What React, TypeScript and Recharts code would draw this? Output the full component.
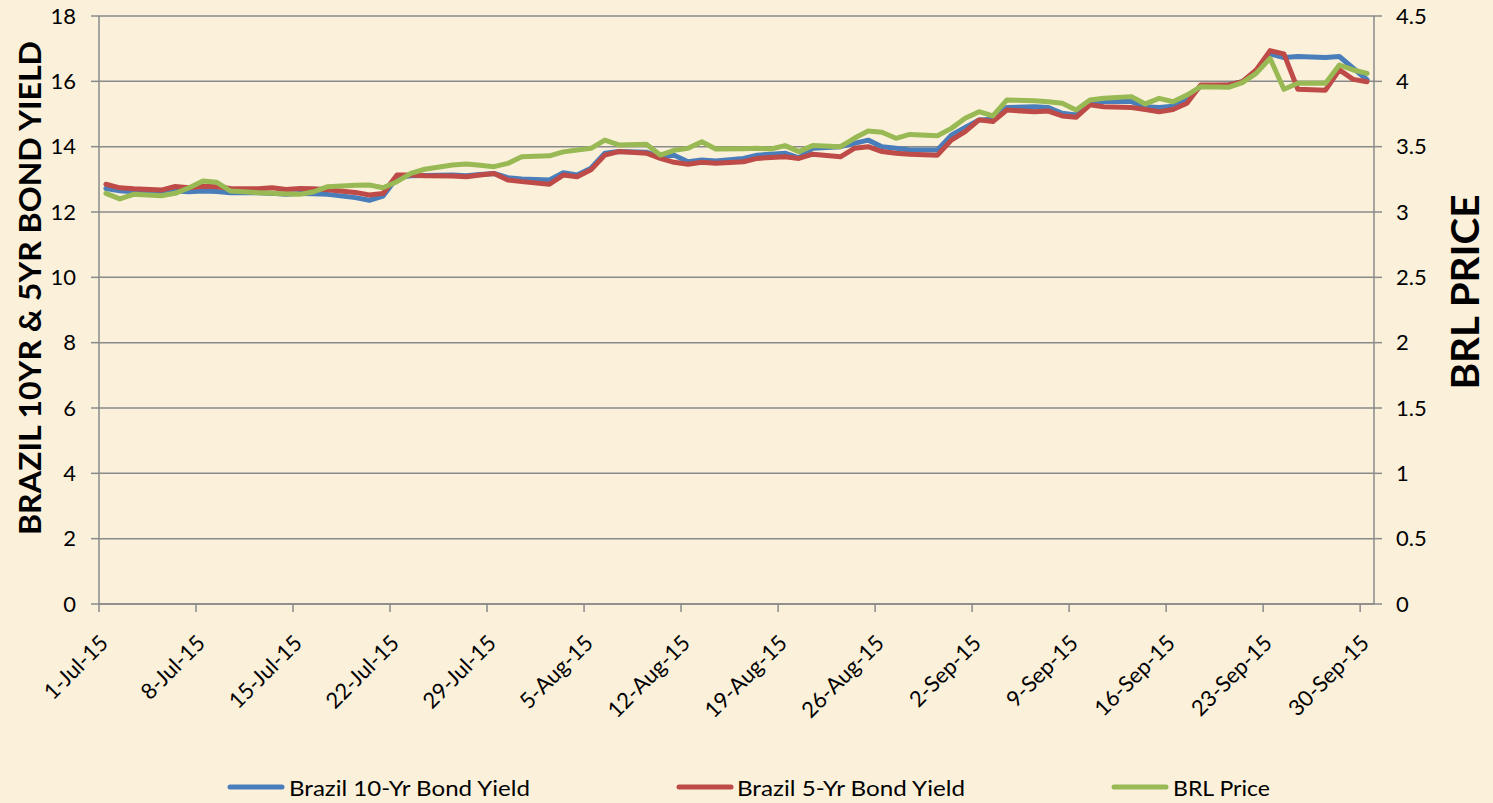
import React from 'react';
import { LineChart, Line, XAxis, YAxis, CartesianGrid, Legend } from 'recharts';

// ---------- DATA ----------
const dates = [
  '2015-07-01','2015-07-02','2015-07-03','2015-07-05','2015-07-06','2015-07-07','2015-07-08','2015-07-09','2015-07-10',
  '2015-07-12','2015-07-13','2015-07-14','2015-07-15','2015-07-16','2015-07-17',
  '2015-07-19','2015-07-20','2015-07-21','2015-07-22','2015-07-23','2015-07-24',
  '2015-07-26','2015-07-27','2015-07-28','2015-07-29','2015-07-30','2015-07-31',
  '2015-08-02','2015-08-03','2015-08-04','2015-08-05','2015-08-06','2015-08-07',
  '2015-08-09','2015-08-10','2015-08-11','2015-08-12','2015-08-13','2015-08-14',
  '2015-08-16','2015-08-17','2015-08-18','2015-08-19','2015-08-20','2015-08-21',
  '2015-08-23','2015-08-24','2015-08-25','2015-08-26','2015-08-27','2015-08-28',
  '2015-08-30','2015-08-31','2015-09-01','2015-09-02','2015-09-03','2015-09-04',
  '2015-09-06','2015-09-07','2015-09-08','2015-09-09','2015-09-10','2015-09-11',
  '2015-09-13','2015-09-14','2015-09-15','2015-09-16','2015-09-17','2015-09-18',
  '2015-09-20','2015-09-21','2015-09-22','2015-09-23','2015-09-24','2015-09-25',
  '2015-09-27','2015-09-28','2015-09-29','2015-09-30',
];

const yield10 = [
  12.72, 12.65, 12.62, 12.59, 12.64, 12.62, 12.64, 12.63, 12.59,
  12.59, 12.57, 12.54, 12.57, 12.56, 12.54,
  12.44, 12.36, 12.49, 13.05, 13.11, 13.12,
  13.13, 13.11, 13.15, 13.18, 13.05, 13.01,
  12.98, 13.2, 13.13, 13.34, 13.8, 13.85,
  13.83, 13.69, 13.74, 13.54, 13.59, 13.56,
  13.64, 13.74, 13.77, 13.8, 13.66, 13.95,
  14.0, 14.1, 14.2, 14.0, 13.95, 13.9,
  13.9, 14.35, 14.59, 14.82, 14.84, 15.2,
  15.22, 15.2, 15.02, 14.97, 15.33, 15.38,
  15.38, 15.22, 15.2, 15.24, 15.43, 15.86,
  15.89, 15.99, 16.3, 16.84, 16.73, 16.76,
  16.73, 16.76, 16.4, 16.05,
];

const yield5 = [
  12.85, 12.74, 12.71, 12.67, 12.78, 12.74, 12.79, 12.77, 12.72,
  12.71, 12.74, 12.69, 12.72, 12.71, 12.68,
  12.6, 12.52, 12.57, 13.13, 13.13, 13.11,
  13.1, 13.08, 13.13, 13.18, 12.98, 12.93,
  12.85, 13.13, 13.08, 13.29, 13.74, 13.85,
  13.8, 13.64, 13.52, 13.46, 13.52, 13.49,
  13.54, 13.64, 13.67, 13.69, 13.64, 13.77,
  13.69, 13.95, 14.0, 13.85, 13.8, 13.77,
  13.74, 14.2, 14.46, 14.82, 14.77, 15.12,
  15.07, 15.09, 14.94, 14.9, 15.28, 15.22,
  15.2, 15.14, 15.07, 15.14, 15.33, 15.89,
  15.89, 15.99, 16.35, 16.94, 16.84, 15.76,
  15.73, 16.35, 16.06, 15.99,
];

const brlPrice = [
  3.143, 3.1, 3.135, 3.125, 3.143, 3.186, 3.237, 3.227, 3.16,
  3.148, 3.143, 3.138, 3.135, 3.155, 3.194,
  3.204, 3.207, 3.186, 3.232, 3.296, 3.327,
  3.36, 3.367, 3.357, 3.347, 3.372, 3.423,
  3.43, 3.46, 3.474, 3.487, 3.55, 3.513,
  3.518, 3.436, 3.472, 3.487, 3.538, 3.482,
  3.485, 3.487, 3.482, 3.508, 3.462, 3.508,
  3.5, 3.564, 3.62, 3.61, 3.564, 3.594,
  3.584, 3.64, 3.717, 3.768, 3.735, 3.857,
  3.852, 3.844, 3.832, 3.781, 3.857, 3.87,
  3.883, 3.827, 3.87, 3.844, 3.895, 3.959,
  3.954, 3.99, 4.061, 4.176, 3.939, 3.985,
  3.985, 4.125, 4.087, 4.061,
];

const tickDates = [
  '2015-07-01','2015-07-08','2015-07-15','2015-07-22','2015-07-29',
  '2015-08-05','2015-08-12','2015-08-19','2015-08-26',
  '2015-09-02','2015-09-09','2015-09-16','2015-09-23','2015-09-30',
];
const axisEndDate = '2015-10-01';

const leftTicks = [0, 2, 4, 6, 8, 10, 12, 14, 16, 18];
const rightTicks = [0, 0.5, 1, 1.5, 2, 2.5, 3, 3.5, 4, 4.5];

const seriesNames = ['Brazil 10-Yr Bond Yield', 'Brazil 5-Yr Bond Yield', 'BRL Price'];
const leftTitle = 'BRAZIL 10YR & 5YR BOND YIELD';
const rightTitle = 'BRL PRICE';

// ---------- HELPERS ----------
const MONTHS = ['Jan','Feb','Mar','Apr','May','Jun','Jul','Aug','Sep','Oct','Nov','Dec'];
const START = Date.UTC(2015, 6, 1);
const parse = (iso: string) => iso.split('-').map(Number);
const dayIndex = (iso: string) => {
  const [y, m, d] = parse(iso);
  return (Date.UTC(y, m - 1, d) - START) / 86400000;
};
const fmtDate = (iso: string) => {
  const [y, m, d] = parse(iso);
  return `${d}-${MONTHS[m - 1]}-${String(y).slice(2)}`;
};

// each date occupies a one-day band; points sit in the middle of their band
const data = dates.map((iso, i) => ({
  x: dayIndex(iso) + 0.5,
  y10: yield10[i],
  y5: yield5[i],
  brl: brlPrice[i],
}));
const xTicks = tickDates.map(dayIndex);
const xLabels = new Map<number, string>(xTicks.map((t, i) => [t, fmtDate(tickDates[i])]));
const xMax = dayIndex(axisEndDate);

const COLORS = ['#4A7EBB', '#BE4B48', '#98B954'];
const FONT = 'Lato, "Open Sans", sans-serif';
const AXIS_GREY = '#8A8A8A';
const TICK_FONT_SIZE = 22;

const XTick = (props: any) => {
  const { x, y, payload } = props;
  const ax = x + 5;
  const ay = y + 25;
  return (
    <text
      x={ax}
      y={ay}
      dy="0.35em"
      textAnchor="end"
      transform={`rotate(-45 ${ax} ${ay})`}
      fontFamily={FONT}
      fontSize={TICK_FONT_SIZE}
      fill="#000"
    >
      {xLabels.get(payload.value) ?? ''}
    </text>
  );
};

const LeftTitle = (props: any) => {
  const vb = props.viewBox || { x: 0, y: 16, width: 99, height: 588 };
  const cx = 29;
  const cy = vb.y + vb.height / 2 - 22;
  return (
    <text
      x={cx}
      y={cy}
      transform={`rotate(-90 ${cx} ${cy})`}
      textAnchor="middle"
      dominantBaseline="central"
      fontFamily={FONT}
      fontWeight={700}
      fontSize={31}
      textLength={494}
      lengthAdjust="spacingAndGlyphs"
      fill="#000"
    >
      {leftTitle}
    </text>
  );
};

const RightTitle = (props: any) => {
  const vb = props.viewBox || { x: 1374, y: 16, width: 119, height: 588 };
  const cx = 1464;
  const cy = vb.y + vb.height / 2 - 18;
  return (
    <text
      x={cx}
      y={cy}
      transform={`rotate(-90 ${cx} ${cy})`}
      textAnchor="middle"
      dominantBaseline="central"
      fontFamily={FONT}
      fontWeight={700}
      fontSize={39}
      textLength={195}
      lengthAdjust="spacingAndGlyphs"
      fill="#000"
    >
      {rightTitle}
    </text>
  );
};

const legendPos = [
  { line: 228, text: 289, width: 241 },
  { line: 677, text: 737, width: 228 },
  { line: 1112, text: 1173, width: 97 },
];

const LegendContent = () => (
  <svg width={1493} height={34} style={{ display: 'block' }}>
    {seriesNames.map((name, i) => (
      <g key={name}>
        <line
          x1={legendPos[i].line + 2}
          x2={legendPos[i].line + 54}
          y1={17}
          y2={17}
          stroke={COLORS[i]}
          strokeWidth={5}
          strokeLinecap="round"
        />
        <text
          x={legendPos[i].text}
          y={17}
          dominantBaseline="central"
          fontFamily={FONT}
          fontSize={22}
          textLength={legendPos[i].width}
          lengthAdjust="spacingAndGlyphs"
          fill="#000"
        >
          {name}
        </text>
      </g>
    ))}
  </svg>
);

export default function App() {
  return (
    <div
      style={{
        position: 'absolute',
        left: 0,
        top: 0,
        width: 1493,
        height: 803,
        background: '#FBF1DB',
        overflow: 'hidden',
      }}
    >
      <LineChart
        width={1493}
        height={803}
        data={data}
        margin={{ top: 16, right: 0, bottom: 49, left: 0 }}
      >
        <CartesianGrid
          yAxisId="left"
          vertical={false}
          stroke={AXIS_GREY}
          strokeWidth={1.5}
        />
        <XAxis
          dataKey="x"
          type="number"
          domain={[0, xMax]}
          ticks={xTicks}
          interval={0}
          height={150}
          tickSize={8}
          tick={<XTick />}
          axisLine={{ stroke: AXIS_GREY, strokeWidth: 1.5 }}
          tickLine={{ stroke: AXIS_GREY, strokeWidth: 1.5 }}
          allowDataOverflow
        />
        <YAxis
          yAxisId="left"
          orientation="left"
          width={99}
          domain={[0, 18]}
          ticks={leftTicks}
          interval={0}
          tickSize={8}
          tickMargin={15}
          tick={{ fontFamily: FONT, fontSize: TICK_FONT_SIZE, fill: '#000' }}
          axisLine={{ stroke: AXIS_GREY, strokeWidth: 1.5 }}
          tickLine={{ stroke: AXIS_GREY, strokeWidth: 1.5 }}
          label={<LeftTitle />}
        />
        <YAxis
          yAxisId="right"
          orientation="right"
          width={119}
          domain={[0, 4.5]}
          ticks={rightTicks}
          interval={0}
          tickSize={8}
          tickMargin={14}
          tickFormatter={(v: number) => String(v)}
          tick={{ fontFamily: FONT, fontSize: TICK_FONT_SIZE, fill: '#000' }}
          axisLine={{ stroke: AXIS_GREY, strokeWidth: 1.5 }}
          tickLine={{ stroke: AXIS_GREY, strokeWidth: 1.5 }}
          label={<RightTitle />}
        />
        <Legend
          layout="horizontal"
          verticalAlign="middle"
          align="center"
          wrapperStyle={{ top: 770, left: 0, width: 1493, height: 34 }}
          content={<LegendContent />}
        />
        <Line
          yAxisId="left"
          type="linear"
          dataKey="y10"
          name={seriesNames[0]}
          stroke={COLORS[0]}
          strokeWidth={5}
          strokeLinejoin="round"
          strokeLinecap="round"
          dot={false}
          isAnimationActive={false}
        />
        <Line
          yAxisId="left"
          type="linear"
          dataKey="y5"
          name={seriesNames[1]}
          stroke={COLORS[1]}
          strokeWidth={5}
          strokeLinejoin="round"
          strokeLinecap="round"
          dot={false}
          isAnimationActive={false}
        />
        <Line
          yAxisId="right"
          type="linear"
          dataKey="brl"
          name={seriesNames[2]}
          stroke={COLORS[2]}
          strokeWidth={5}
          strokeLinejoin="round"
          strokeLinecap="round"
          dot={false}
          isAnimationActive={false}
        />
      </LineChart>
    </div>
  );
}
